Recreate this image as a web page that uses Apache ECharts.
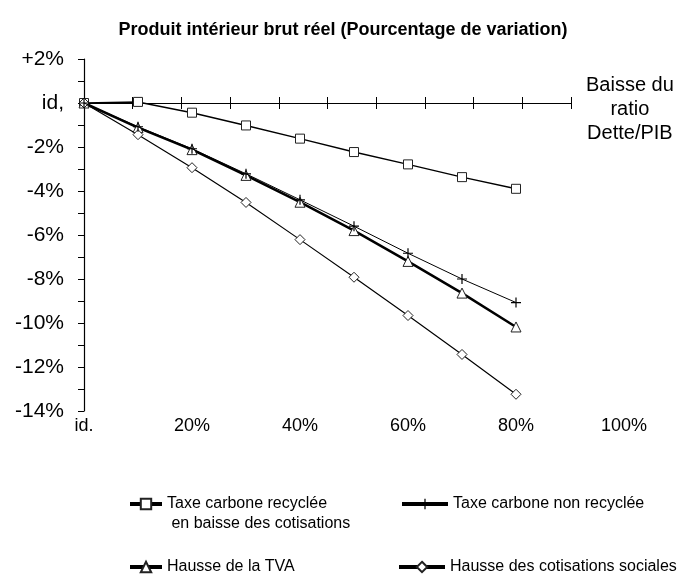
<!DOCTYPE html>
<html><head><meta charset="utf-8">
<script src="https://cdn.jsdelivr.net/npm/echarts@6/dist/echarts.min.js"></script>
<style>html,body{margin:0;padding:0;background:#fff}#c{width:686px;height:579px}</style>
</head><body><div id="c"></div>
<script>
const title = 'Produit intérieur brut réel (Pourcentage de variation)';
const xValues = [0, 10, 20, 30, 40, 50, 60, 70, 80];
const xTicks = [0, 20, 40, 60, 80, 100];
const yTicks = [2, 0, -2, -4, -6, -8, -10, -12, -14];
const seriesNames = ['Taxe carbone recyclée\n en baisse des cotisations', 'Taxe carbone non recyclée', 'Hausse de la TVA', 'Hausse des cotisations sociales'];
const recyclee = [0, 0.05, -0.44, -1.02, -1.62, -2.23, -2.79, -3.37, -3.90];
const nonRecyclee = [0, -1.08, -2.08, -3.22, -4.40, -5.60, -6.83, -8.00, -9.07];
const tva = [0, -1.12, -2.12, -3.29, -4.51, -5.80, -7.20, -8.64, -10.18];
const cotisations = [0, -1.44, -2.94, -4.52, -6.21, -7.92, -9.66, -11.43, -13.24];
const axisNote = 'Baisse du\nratio\nDette/PIB';

const F = '"Liberation Sans", Arial, sans-serif';
const plus = 'path://M4.4,0H5.6V4.4H10V5.6H5.6V10H4.4V5.6H0V4.4H4.4Z';
const pair = vals => vals.map((v, i) => [xValues[i], v]);

const chart = echarts.init(document.getElementById('c'), null, {renderer: 'canvas'});
function legendAt(name, left, top, w, extra) {
  return Object.assign({
    data: [name], left: left, top: top, orient: 'horizontal', padding: 0,
    itemWidth: w, itemHeight: 13, itemGap: 8, selectedMode: false,
    lineStyle: {width: 4},
    textStyle: {fontFamily: F, fontSize: 16, color: '#000', lineHeight: 20}
  }, extra || {});
}
const option = {
  animation: false,
  backgroundColor: '#fff',
  title: {text: title, left: 'center', top: 16, textStyle: {fontFamily: F, fontSize: 18, fontWeight: 'bold', color: '#000'}},
  grid: [
    {left: 84, right: 62, top: 59, bottom: 168},
    {left: 84, width: 487, top: 59, bottom: 168}
  ],
  xAxis: [
    {type: 'value', gridIndex: 0, min: 0, max: 100, interval: 20, position: 'bottom',
     axisLine: {show: false, onZero: false}, axisTick: {show: false}, splitLine: {show: false},
     axisLabel: {margin: 6, fontFamily: F, fontSize: 18, color: '#000',
       formatter: v => xTicks.indexOf(v) === 0 ? 'id.' : (xTicks.indexOf(v) > 0 ? v + '%' : '')}},
    {type: 'value', gridIndex: 1, min: 0, max: 10, interval: 1, position: 'bottom',
     axisLine: {onZero: true, onZeroAxisIndex: 1, lineStyle: {color: '#000', width: 1.2}},
     axisTick: {length: 6, lineStyle: {color: '#000', width: 1}}, axisLabel: {show: false}, splitLine: {show: false}},
    {type: 'value', gridIndex: 1, min: 0, max: 10, interval: 1, position: 'top',
     axisLine: {onZero: true, onZeroAxisIndex: 1, lineStyle: {color: '#000', width: 1.2}},
     axisTick: {length: 6, lineStyle: {color: '#000', width: 1}}, axisLabel: {show: false}, splitLine: {show: false}}
  ],
  yAxis: [
    {type: 'value', gridIndex: 0, min: -14, max: 2, interval: 1,
     axisLine: {show: true, onZero: false, lineStyle: {color: '#000', width: 1.2}},
     axisTick: {show: true, length: 6, lineStyle: {color: '#000'}}, splitLine: {show: false},
     axisLabel: {margin: 20, fontFamily: F, fontSize: 21, color: '#000',
       formatter: v => yTicks.indexOf(v) < 0 ? '' : (v === 0 ? 'id,' : (v > 0 ? '+' + v + '%' : v + '%'))}},
    {type: 'value', gridIndex: 1, min: -14, max: 2, interval: 1, show: false}
  ],
  legend: [
    legendAt(seriesNames[0], 128, 474, 32, {formatter: n => '\n' + n}),
    legendAt(seriesNames[1], 400, 494, 46),
    legendAt(seriesNames[2], 128, 557, 32),
    legendAt(seriesNames[3], 397, 557, 46)
  ],
  graphic: [
    {type: 'text', left: 586, top: 73, style: {text: axisNote, font: '20px ' + F, fill: '#000', align: 'center', lineHeight: 24, textAlign: 'center'}}
  ],
  series: [
    {name: seriesNames[0], type: 'line', data: pair(recyclee), symbol: 'rect', symbolSize: 9,
     lineStyle: {color: '#000', width: 1.5}, itemStyle: {color: '#fff', borderColor: '#222', borderWidth: 1}, z: 3},
    {name: seriesNames[1], type: 'line', data: pair(nonRecyclee), symbol: plus, symbolSize: 10,
     lineStyle: {color: '#000', width: 1}, itemStyle: {color: '#000', borderWidth: 0}, z: 4},
    {name: seriesNames[2], type: 'line', data: pair(tva), symbol: 'triangle', symbolSize: 10,
     lineStyle: {color: '#000', width: 2.5}, itemStyle: {color: '#fff', borderColor: '#222', borderWidth: 1}, z: 3},
    {name: seriesNames[3], type: 'line', data: pair(cotisations), symbol: 'diamond', symbolSize: 10,
     lineStyle: {color: '#000', width: 1.2}, itemStyle: {color: '#fff', borderColor: '#222', borderWidth: 1}, z: 3}
  ]
};
chart.setOption(option);
</script></body></html>
